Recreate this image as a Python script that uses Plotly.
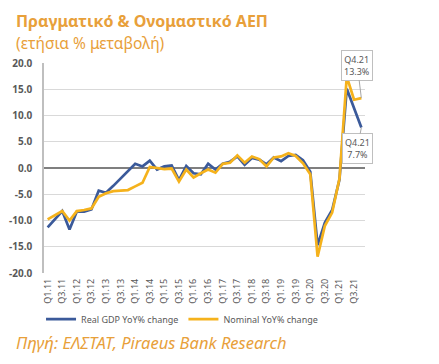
import plotly.graph_objects as go

quarters = [f"Q{q}.{y}" for y in range(11, 22) for q in range(1, 5)]

real_gdp = [-11.3, -9.7, -8.2, -11.7, -8.3, -8.3, -7.9, -4.3, -4.7, -3.4, -2.0, -0.6,
            0.8, 0.3, 1.4, -0.3, 0.3, 0.5, -2.3, 0.4, -1.0, -1.2, 0.8, -0.3,
            0.8, 1.2, 2.2, 0.6, 1.9, 1.6, 0.7, 2.0, 1.3, 2.3, 2.5, 1.5,
            -0.7, -14.7, -10.4, -8.0, -2.2, 15.1, 11.3, 7.7]

nominal = [-9.8, -9.0, -8.2, -10.0, -8.2, -8.0, -7.7, -5.5, -4.8, -4.4, -4.3, -4.2,
           -3.5, -2.8, 0.2, 0.0, -0.2, -0.1, -2.6, -0.3, -1.8, -1.0, -0.3, -0.9,
           0.8, 1.0, 2.4, 1.0, 2.2, 1.7, 0.3, 2.0, 2.2, 2.8, 2.3, 0.9,
           -1.2, -16.9, -11.0, -8.5, -2.0, 17.4, 13.0, 13.3]

tick_labels = quarters[::2]
y_ticks = [-20, -15, -10, -5, 0, 5, 10, 15, 20]

title = "Πραγματικό & Ονομαστικό ΑΕΠ"
subtitle = "(ετήσια % μεταβολή)"
source = "Πηγή: ΕΛΣΤΑΤ, Piraeus Bank Research"

BLUE = "#3B5A9A"
GOLD = "#F5B21C"
ORANGE = "#E8A03A"
GRAY = "#595959"

fig = go.Figure()
fig.add_trace(go.Scatter(x=quarters, y=real_gdp, mode="lines", name="Real GDP YoY% change",
                         line=dict(color=BLUE, width=2.7)))
fig.add_trace(go.Scatter(x=quarters, y=nominal, mode="lines", name="Nominal YoY% change",
                         line=dict(color=GOLD, width=2.7)))

font_family = "Noto Sans, Open Sans, sans-serif"

# page body has an 8px default margin, so the figure is sized to fit the window
fig.update_layout(
    width=431, height=356,
    margin=dict(l=36, r=74, t=55, b=91),
    paper_bgcolor="white", plot_bgcolor="white",
    font=dict(family=font_family, color=GRAY, size=9),
    showlegend=True,
    legend=dict(orientation="h", x=0.43, xanchor="center", y=-0.22, yanchor="middle",
                font=dict(size=9, color=GRAY), itemwidth=30, tracegroupgap=0,
                bgcolor="rgba(0,0,0,0)"),
    xaxis=dict(type="category", categoryorder="array", categoryarray=quarters,
               tickmode="array", tickvals=tick_labels, ticktext=tick_labels,
               tickangle=-90, tickfont=dict(size=9, color=GRAY),
               showgrid=False, showline=False, ticks="", ticklabelstandoff=3,
               automargin=False, range=[-0.5, len(quarters) - 0.5]),
    yaxis=dict(range=[-20, 20], tickmode="array", tickvals=y_ticks,
               ticktext=[f"{v:.1f}" for v in y_ticks],
               tickfont=dict(size=10, color=GRAY, weight="bold"),
               showgrid=True, gridcolor="#D9D9D9", gridwidth=1,
               zeroline=True, zerolinecolor="#7F7F7F", zerolinewidth=1.5,
               showline=True, linecolor="#BFBFBF", linewidth=1.5,
               ticks="", ticklabelstandoff=8, automargin=False),
)

annotations = [
    dict(text=f"<b>{title}</b>", xref="paper", yref="paper", x=-0.094, y=1.2,
         xanchor="left", yanchor="middle", showarrow=False,
         font=dict(size=16, color=ORANGE, family=font_family)),
    dict(text=subtitle, xref="paper", yref="paper", x=-0.094, y=1.095,
         xanchor="left", yanchor="middle", showarrow=False,
         font=dict(size=15.5, color=ORANGE, family=font_family)),
    dict(text=f"<i>{source}</i>", xref="paper", yref="paper", x=-0.094, y=-0.333,
         xanchor="left", yanchor="middle", showarrow=False,
         font=dict(size=16.5, color=ORANGE, family=font_family)),
    dict(text=f"{quarters[-1]}<br>{nominal[-1]:.1f}%", x=quarters[-1], y=nominal[-1],
         xref="x", yref="y", showarrow=True, arrowhead=0, arrowwidth=1, arrowcolor="#A6A6A6",
         ax=-4, ay=-33, bordercolor="#BFBFBF", borderwidth=1, borderpad=2, bgcolor="white",
         font=dict(size=9, color=GRAY)),
    dict(text=f"{quarters[-1]}<br>{real_gdp[-1]:.1f}%", x=quarters[-1], y=real_gdp[-1],
         xref="x", yref="y", showarrow=True, arrowhead=0, arrowwidth=1, arrowcolor="#A6A6A6",
         ax=-4, ay=21, bordercolor="#BFBFBF", borderwidth=1, borderpad=2, bgcolor="white",
         font=dict(size=9, color=GRAY)),
]
fig.update_layout(annotations=annotations)

fig.write_html("out.html")
